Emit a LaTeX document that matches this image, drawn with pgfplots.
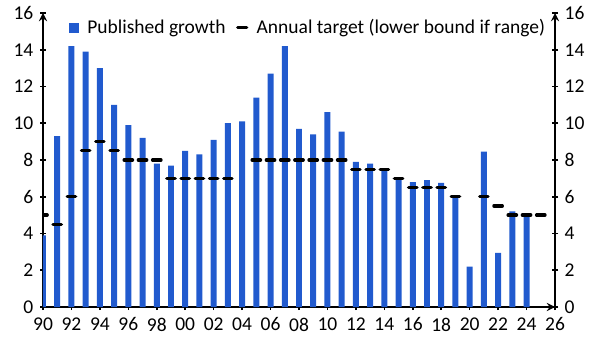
\documentclass[border=0pt]{standalone}
\usepackage{fontspec}
\setmainfont{Carlito}
\usepackage{pgfplots}
\pgfplotsset{compat=1.18}
\usepackage{pgfplotstable}
\definecolor{barblue}{RGB}{33,90,206}
\pgfplotstableread{
year growth
1990 3.9
1991 9.3
1992 14.2
1993 13.9
1994 13.0
1995 11.0
1996 9.9
1997 9.2
1998 7.8
1999 7.7
2000 8.5
2001 8.3
2002 9.1
2003 10.0
2004 10.1
2005 11.4
2006 12.7
2007 14.2
2008 9.7
2009 9.4
2010 10.6
2011 9.55
2012 7.9
2013 7.8
2014 7.4
2015 7.0
2016 6.8
2017 6.9
2018 6.75
2019 6.0
2020 2.2
2021 8.45
2022 2.95
2023 5.2
2024 5.0
}\growth
\pgfplotstableread{
year target
1990 5
1991 4.5
1992 6
1993 8.5
1994 9
1995 8.5
1996 8
1997 8
1998 8
1999 7
2000 7
2001 7
2002 7
2003 7
2005 8
2006 8
2007 8
2008 8
2009 8
2010 8
2011 8
2012 7.5
2013 7.5
2014 7.5
2015 7
2016 6.5
2017 6.5
2018 6.5
2019 6
2021 6
2022 5.5
2023 5
2024 5
2025 5
}\target
\begin{document}
\fontsize{19.5bp}{22bp}\selectfont
\begin{tikzpicture}
\pgfplotsset{
  common/.style={
    scale only axis, width=512bp, height=294bp,
    xmin=1990, xmax=2026, ymin=0, ymax=16,
    ytick={0,2,...,16},
    tick align=outside,
    major tick length=6bp,
    every tick/.style={black, line width=1.6bp},
    axis line style={-, black, line width=2.6bp},
    tick label style={font=\fontsize{19.5bp}{22bp}\selectfont},
    /pgf/number format/assume math mode=true,
  }
}
\begin{axis}[common,
  axis x line=bottom, axis y line=left,
  xtick={1990,1992,...,2026},
  xticklabels={90,92,94,96,98,00,02,04,06,08,10,12,14,16,18,20,22,24,26},
  xticklabel style={yshift=-1bp},
  legend style={at={(0.516,1)}, anchor=north, draw=none, fill=none,
    legend columns=2, font=\fontsize{19.5bp}{22bp}\selectfont,
    nodes={inner xsep=0pt},
    /tikz/every even column/.append style={column sep=10bp},
    inner sep=1bp, yshift=-3bp},
  legend cell align=left,
]
\coordinate (bl) at (rel axis cs:0,0);
\coordinate (tr) at (rel axis cs:1,1);
\addplot[ybar, bar width=0.42, fill=barblue, draw=none,
  legend image code/.code={\path[draw=none,fill=none] (0bp,0bp) -- (18bp,0bp);
    \fill[barblue] (0bp,-5bp) rectangle (10bp,5bp);}]
  table[x=year, y=growth] {\growth};
\addlegendentry{Published growth}
\addplot[only marks, mark=-, mark size=4.2bp, clip mode=individual,
  mark options={line width=3.3bp, line cap=round, black},
  legend image code/.code={\path[draw=none,fill=none] (-2bp,0bp) -- (19bp,0bp);
    \draw[black, line width=3.3bp, line cap=round] (0bp,0) -- (9bp,0);}]
  table[x=year, y=target] {\target};
\addlegendentry{Annual target (lower bound if range)}
\end{axis}
\begin{axis}[common,
  axis x line=none, axis y line=right,
  xtick=\empty,
]
\end{axis}
\pgfresetboundingbox
\path[use as bounding box] ([shift={(-43bp,-46bp)}]bl) rectangle ([shift={(50bp,13bp)}]tr);
\end{tikzpicture}
\end{document}
